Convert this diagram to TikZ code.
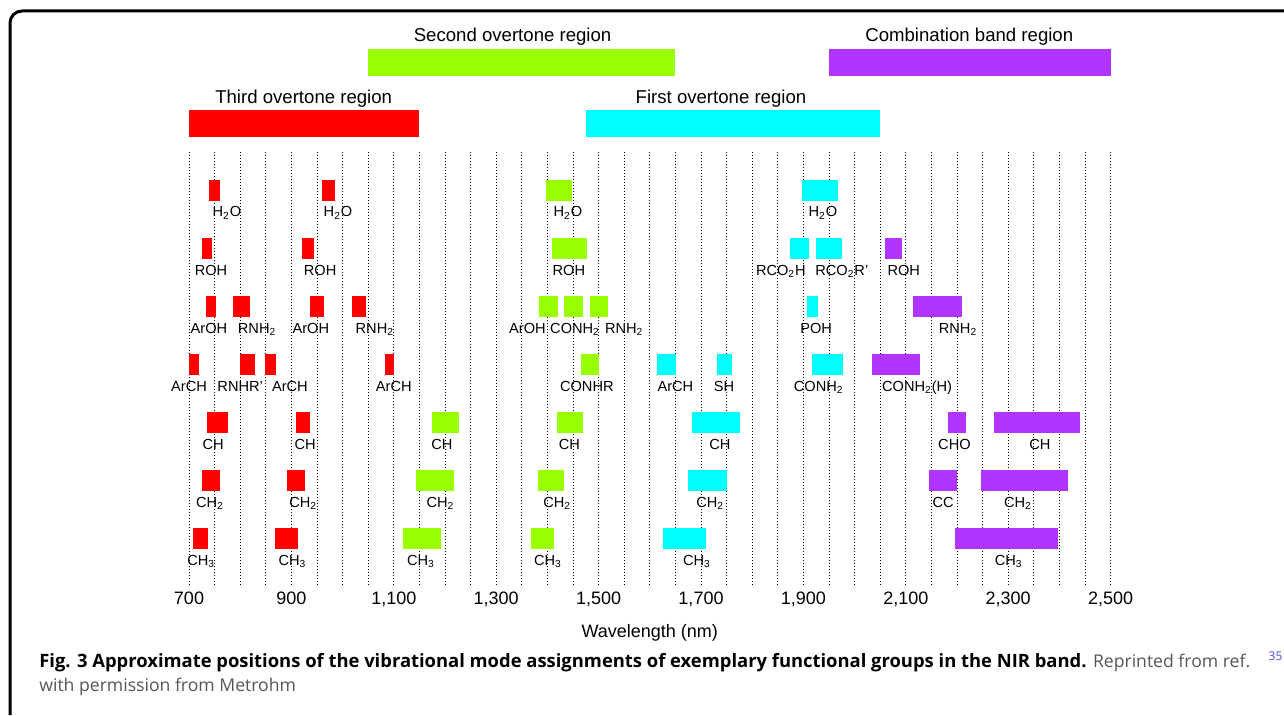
\documentclass[tikz,border=0pt]{standalone}
\usepackage{fontspec}
\setmainfont{Liberation Sans}
\newfontfamily\capfont{Open Sans}

\definecolor{third}{RGB}{255,0,0}
\definecolor{second}{RGB}{153,255,0}
\definecolor{first}{RGB}{0,255,255}
\definecolor{comb}{RGB}{178,52,255}
\definecolor{capgray}{RGB}{85,85,85}
\definecolor{refblue}{RGB}{70,70,235}

\tikzset{
  grid line/.style={densely dotted, line width=0.5pt},
  group label/.style={font=\fontsize{7.3}{8}\selectfont, anchor=base, inner sep=0pt},
  region label/.style={font=\fontsize{9.3}{11}\selectfont, anchor=base, inner sep=0pt},
  tick label/.style={font=\fontsize{9}{11}\selectfont, anchor=base, inner sep=0pt},
  caption text/.style={font=\capfont\fontsize{8.8}{11}\selectfont, anchor=base west, inner sep=0pt},
}

\begin{document}
\begin{tikzpicture}[x=0.256pt, y=-0.5pt]
  % x in nm, y in pixels of the figure
  \useasboundingbox (330.86,0) rectangle (2838.67,715);
  \draw[line width=1.5pt, rounded corners=6pt] (350.4,715) -- (350.4,11) -- (2838.67,11);

  % regions
  \fill[second] (1050,49) rectangle (1650,76);
  \fill[comb] (1950,49) rectangle (2500,76);
  \fill[third] (700,110) rectangle (1150,137);
  \fill[first] (1475,110) rectangle (2050,137);
  \node[region label] (second-lab) at (1332,41.5) {Second overtone region};
  \node[region label] (comb-lab) at (2224,41.5) {Combination band region};
  \node[region label] (third-lab) at (924,103.5) {Third overtone region};
  \node[region label] (first-lab) at (1739,103.5) {First overtone region};

  \foreach \w in {700,750,...,2500}
    \draw[grid line] (\w,152) -- (\w,587);

  % bands: colour/from/to/row/label x/label
  \foreach \c/\a/\b/\r/\lx/\t in {
      third/740/760/1/774/{H\textsubscript{2}O}, third/960/985/1/991/{H\textsubscript{2}O},
      second/1397/1449/1/1440/{H\textsubscript{2}O}, first/1897/1967/1/1938/{H\textsubscript{2}O},
      third/725/745/2/743/ROH, third/920/945/2/956/ROH, second/1408/1477/2/1442/ROH,
      first/1874/1910/2/1856/{RCO\textsubscript{2}H}, first/1925/1976/2/1975/{RCO\textsubscript{2}R'},
      comb/2060/2093/2/2096/ROH,
      third/733/753/3/739/ArOH, third/785/819/3/833/{RNH\textsubscript{2}},
      third/937/964/3/938/ArOH, third/1018/1045/3/1063/{RNH\textsubscript{2}},
      second/1384/1420/3/1361/ArOH, second/1433/1469/3/1454/{CONH\textsubscript{2}},
      second/1483/1519/3/1550/{RNH\textsubscript{2}}, first/1907/1928/3/1925/POH,
      comb/2115/2209/3/2202/{RNH\textsubscript{2}},
      third/700/720/4/700/ArCH, third/800/828/4/800/{RNHR'}, third/849/870/4/897/ArCH,
      third/1083/1101/4/1100/ArCH, second/1466/1501/4/1477/CONHR, first/1615/1651/4/1650/ArCH,
      first/1731/1760/4/1745/SH, first/1916/1977/4/1930/{CONH\textsubscript{2}},
      comb/2033/2128/4/2122/{CONH\textsubscript{2}(H)},
      third/735/777/5/747/CH, third/909/936/5/927/CH, second/1175/1227/5/1194/CH,
      second/1418/1470/5/1443/CH, first/1682/1776/5/1737/CH, comb/2182/2218/5/2195/CHO,
      comb/2272/2441/5/2362/CH,
      third/725/761/6/741/{CH\textsubscript{2}}, third/891/927/6/923/{CH\textsubscript{2}},
      second/1143/1218/6/1191/{CH\textsubscript{2}}, second/1381/1432/6/1419/{CH\textsubscript{2}},
      first/1674/1750/6/1718/{CH\textsubscript{2}}, comb/2146/2199/6/2173/CC,
      comb/2247/2416/6/2319/{CH\textsubscript{2}},
      third/708/737/7/724/{CH\textsubscript{3}}, third/867/912/7/902/{CH\textsubscript{3}},
      second/1117/1192/7/1153/{CH\textsubscript{3}}, second/1368/1412/7/1401/{CH\textsubscript{3}},
      first/1625/1709/7/1692/{CH\textsubscript{3}}, comb/2197/2397/7/2301/{CH\textsubscript{3}}}
  {
    \pgfmathsetmacro\top{122+58*\r}
    \fill[\c] (\a,\top) rectangle (\b,\top+21);
    \node[group label] (g\r-\a) at (\lx,\top+37) {\t};
  }

  % axis
  \foreach \w/\t in {700/700, 900/900, 1100/{1,100}, 1300/{1,300}, 1500/{1,500},
      1700/{1,700}, 1900/{1,900}, 2100/{2,100}, 2300/{2,300}, 2500/{2,500}}
    \node[tick label] (tick\w) at (\w,604) {\t};
  \node[tick label] (xlabel) at (1600,637) {Wavelength (nm)};

  % caption
  \node[caption text] (cap1) at (407,667) {\fontsize{9.2}{11}\selectfont\textbf{Fig. 3 Approximate positions of the vibrational mode assignments of exemplary functional groups in the NIR band.} \fontsize{8.8}{11}\selectfont\textcolor{capgray}{Reprinted from ref.}};
  \node[caption text, font=\capfont\fontsize{6}{7}\selectfont, text=refblue] (ref) at (2808,660) {35};
  \node[caption text, text=capgray] (cap2) at (407,691) {with permission from Metrohm};
\end{tikzpicture}
\end{document}
